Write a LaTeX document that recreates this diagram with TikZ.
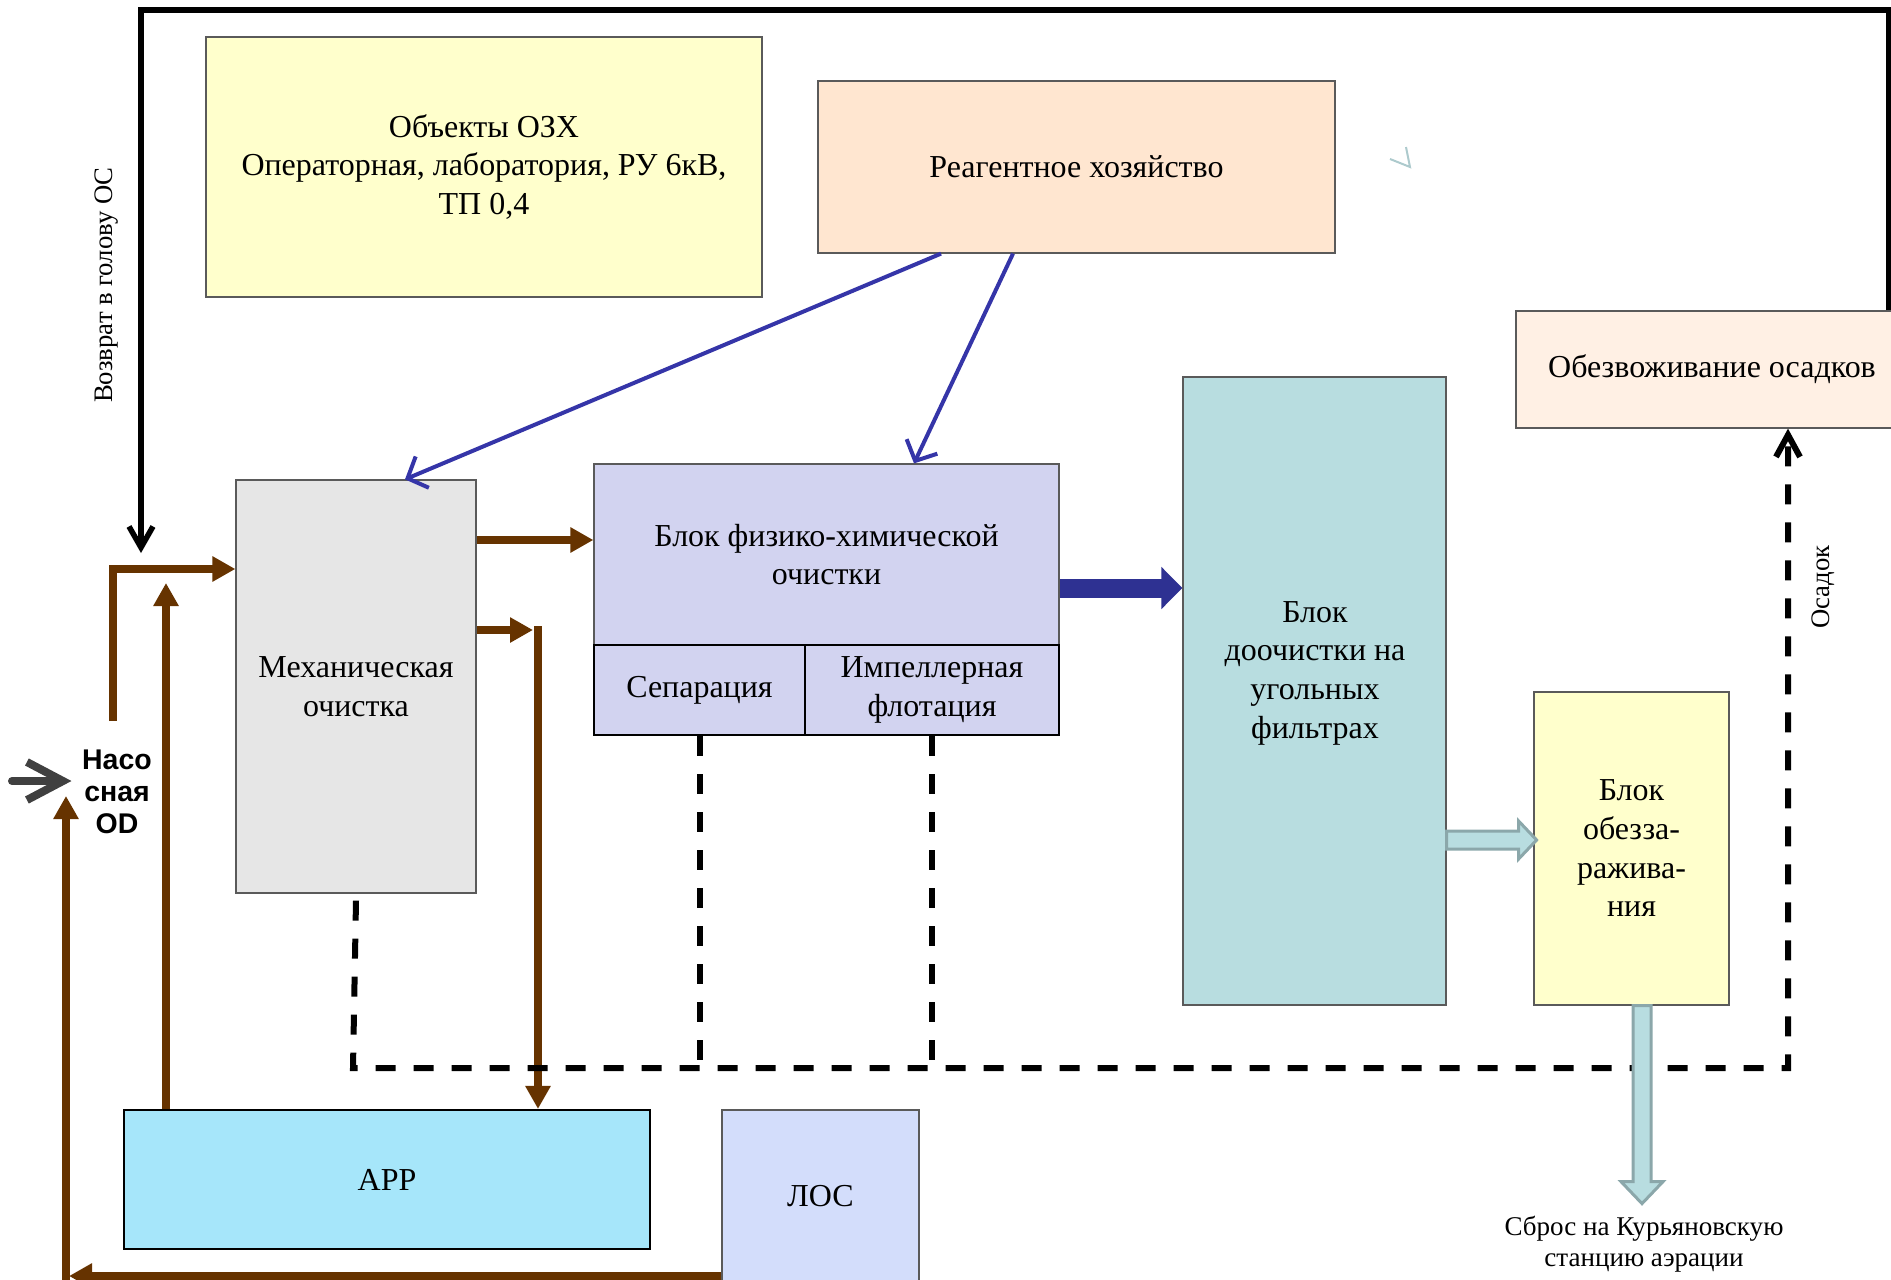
\documentclass[tikz,border=0pt]{standalone}
\usepackage{fontspec}
\setmainfont{Liberation Serif}
\newfontfamily\pumpfont{Liberation Sans}
\usetikzlibrary{arrows.meta}

\definecolor{ozxyellow}{HTML}{FFFFCC}
\definecolor{reagpeach}{HTML}{FFE6D0}
\definecolor{sludgepeach}{HTML}{FFF0E4}
\definecolor{mechgrey}{HTML}{E6E6E6}
\definecolor{physlilac}{HTML}{D2D3F0}
\definecolor{carbteal}{HTML}{B8DDE0}
\definecolor{tealedge}{HTML}{8BA7AA}
\definecolor{appcyan}{HTML}{A6E6FA}
\definecolor{losblue}{HTML}{D3DDFB}
\definecolor{pipebrown}{HTML}{663300}
\definecolor{reagblue}{HTML}{3535A8}
\definecolor{navyflow}{HTML}{2E3192}
\definecolor{inletgrey}{HTML}{404040}
\definecolor{boxedge}{HTML}{5A5A5A}

\begin{document}
\begin{tikzpicture}[x=0.1mm, y=-0.1mm,
        box/.style={draw=boxedge, line width=0.35pt, align=center, inner sep=0pt, font=\fontsize{9.1}{11}\selectfont},
        txt/.style={align=center, inner sep=0pt, font=\fontsize{9.1}{11}\selectfont},
        sidetxt/.style={inner sep=0pt, rotate=90, font=\fontsize{7.6}{9}\selectfont},
        pipe/.style={pipebrown, line width=0.8mm, -{Triangle[length=2.3mm, width=2.4mm]}},
        dose/.style={reagblue, line width=0.4mm, -{Straight Barb[length=1.6mm, width=3.4mm]}},
        sludge/.style={line width=0.6mm, dash pattern=on 2mm off 1.8mm},
        hollow/.style={draw=tealedge, fill=carbteal, line width=0.3mm}]
        \useasboundingbox (0,0) rectangle (1891,1280);

        \node[box, fill=ozxyellow, minimum width=55.6mm, minimum height=26mm] (ozx) at (484,167) {Объекты ОЗХ\\Операторная, лаборатория, РУ 6кВ,\\ТП 0,4};
        \node[box, fill=reagpeach, minimum width=51.7mm, minimum height=17.2mm] (reag) at (1076.5,167) {Реагентное хозяйство};
        \node[box, fill=sludgepeach, minimum width=39.2mm, minimum height=11.7mm] (dewat) at (1712,369.5) {Обезвоживание осадков};

        \node[box, fill=mechgrey, minimum width=24mm, minimum height=41.3mm] (mech) at (356,686.5) {Механическая\\очистка};
        \node[box, fill=physlilac, minimum width=46.5mm, minimum height=18.1mm] (phys) at (826.5,554.5) {Блок физико-химической\\очистки};
        \node[box, draw=black, line width=0.6pt, fill=physlilac, minimum width=21.1mm, minimum height=9mm] (sep) at (699.5,690) {Сепарация};
        \node[box, draw=black, line width=0.6pt, fill=physlilac, minimum width=25.4mm, minimum height=9mm] (flot) at (932,690) {Импеллерная\\флотация};
        \node[box, fill=carbteal, minimum width=26.3mm, minimum height=62.8mm] (carb) at (1314.5,691) {};
        \node[txt] (carbtext) at (1315,673) {Блок\\доочистки на\\угольных\\фильтрах};
        \node[box, fill=ozxyellow, minimum width=19.5mm, minimum height=31.3mm] (disinf) at (1631.5,848.5) {Блок\\обезза-\\ражива-\\ния};

        \node[box, draw=black, line width=0.6pt, fill=appcyan, minimum width=52.6mm, minimum height=13.9mm] (app) at (387,1179.5) {АРР};
        \node[box, fill=losblue, minimum width=19.7mm, minimum height=17.2mm] (los) at (820.5,1196) {ЛОС};

        \node[align=center, inner sep=0pt, font=\pumpfont\bfseries\fontsize{8.1}{9.1}\selectfont] (pump) at (117,792) {Насо\\сная\\OD};
        \node[align=center, inner sep=0pt, font=\fontsize{7.7}{8.9}\selectfont] (outlet) at (1644,1244) {Сброс на Курьяновскую\\станцию аэрации};
        \node[sidetxt] (backlabel) at (107,285) {Возврат в голову ОС};
        \node[sidetxt] (sludgelabel) at (1823,587) {Осадок};

        \coordinate (inlet) at (12,781);
        \coordinate (pumpup) at (113,721);
        \coordinate (pumpturn) at (113,569);
        \coordinate (recirc) at (166,583);
        \coordinate (appturn) at (538,630);
        \coordinate (losturn) at (66,1276);
        \coordinate (pumpin) at (66,796);
        \coordinate (topleft) at (141,10);
        \coordinate (headin) at (141,553);
        \coordinate (sludgeleft) at (353,1068);
        \coordinate (sludgeturn) at (1788,1068);

        \draw[inletgrey, line width=0.8mm, line cap=round, shorten >=1mm, -{Straight Barb[length=3.6mm, width=3.8mm]}] (inlet) -- (pump.west |- inlet);

        \draw[pipe] (pumpup) -- (pumpturn) -- (mech.west |- pumpturn);
        \draw[pipe] (app.north -| recirc) -- (recirc);
        \draw[pipe] (mech.east |- 0,540) -- (phys.west |- 0,540);
        \draw[pipe] (mech.east |- appturn) -- ([xshift=-0.5mm]appturn);
        \draw[pipe] ([yshift=0.4mm]appturn) -- (app.north -| appturn);
        \draw[pipe] (los.west |- losturn) -- ([xshift=0.3mm]losturn);
        \draw[pipe] ([yshift=-0.4mm]losturn) -- (pumpin);

        \draw[dose] (reag.south -| 941,0) -- (mech.north -| 405,0);
        \draw[dose] (reag.south -| 1013,0) -- (phys.north -| 914,0);

        \draw[navyflow, line width=1.9mm, -{Triangle[length=2.1mm, width=4.1mm]}] (phys.east |- 0,588) -- (carb.west |- 0,588);

        \draw[line width=0.55mm, -{Straight Barb[length=2.1mm, width=2.4mm]}] (dewat.north -| 1889,0) |- (topleft) -- (headin);

        \draw[sludge, -{Straight Barb[length=2.2mm, width=2.4mm]}] ([yshift=-0.7mm]mech.south) -- (sludgeleft) -- (sludgeturn) -- (dewat.south -| sludgeturn);
        \draw[sludge] (sep.south) -- (sep.south |- sludgeturn);
        \draw[sludge] (flot.south) -- (flot.south |- sludgeturn);

        \draw[hollow] (carb.east |- 0,831) -- ++(72,0) -- ++(0,-10) -- ++(18,19) -- ++(-18,19) -- ++(0,-10) -- ++(-72,0) -- cycle;
        \draw[hollow] (disinf.south -| 1633,0) -- ++(0,176) -- ++(-12,0) -- ++(21,22) -- ++(21,-22) -- ++(-12,0) -- ++(0,-176) -- cycle;

        \draw[carbteal!80!gray, line width=0.2mm] (1390,159) -- (1410,167) -- (1406,147);
\end{tikzpicture}
\end{document}
